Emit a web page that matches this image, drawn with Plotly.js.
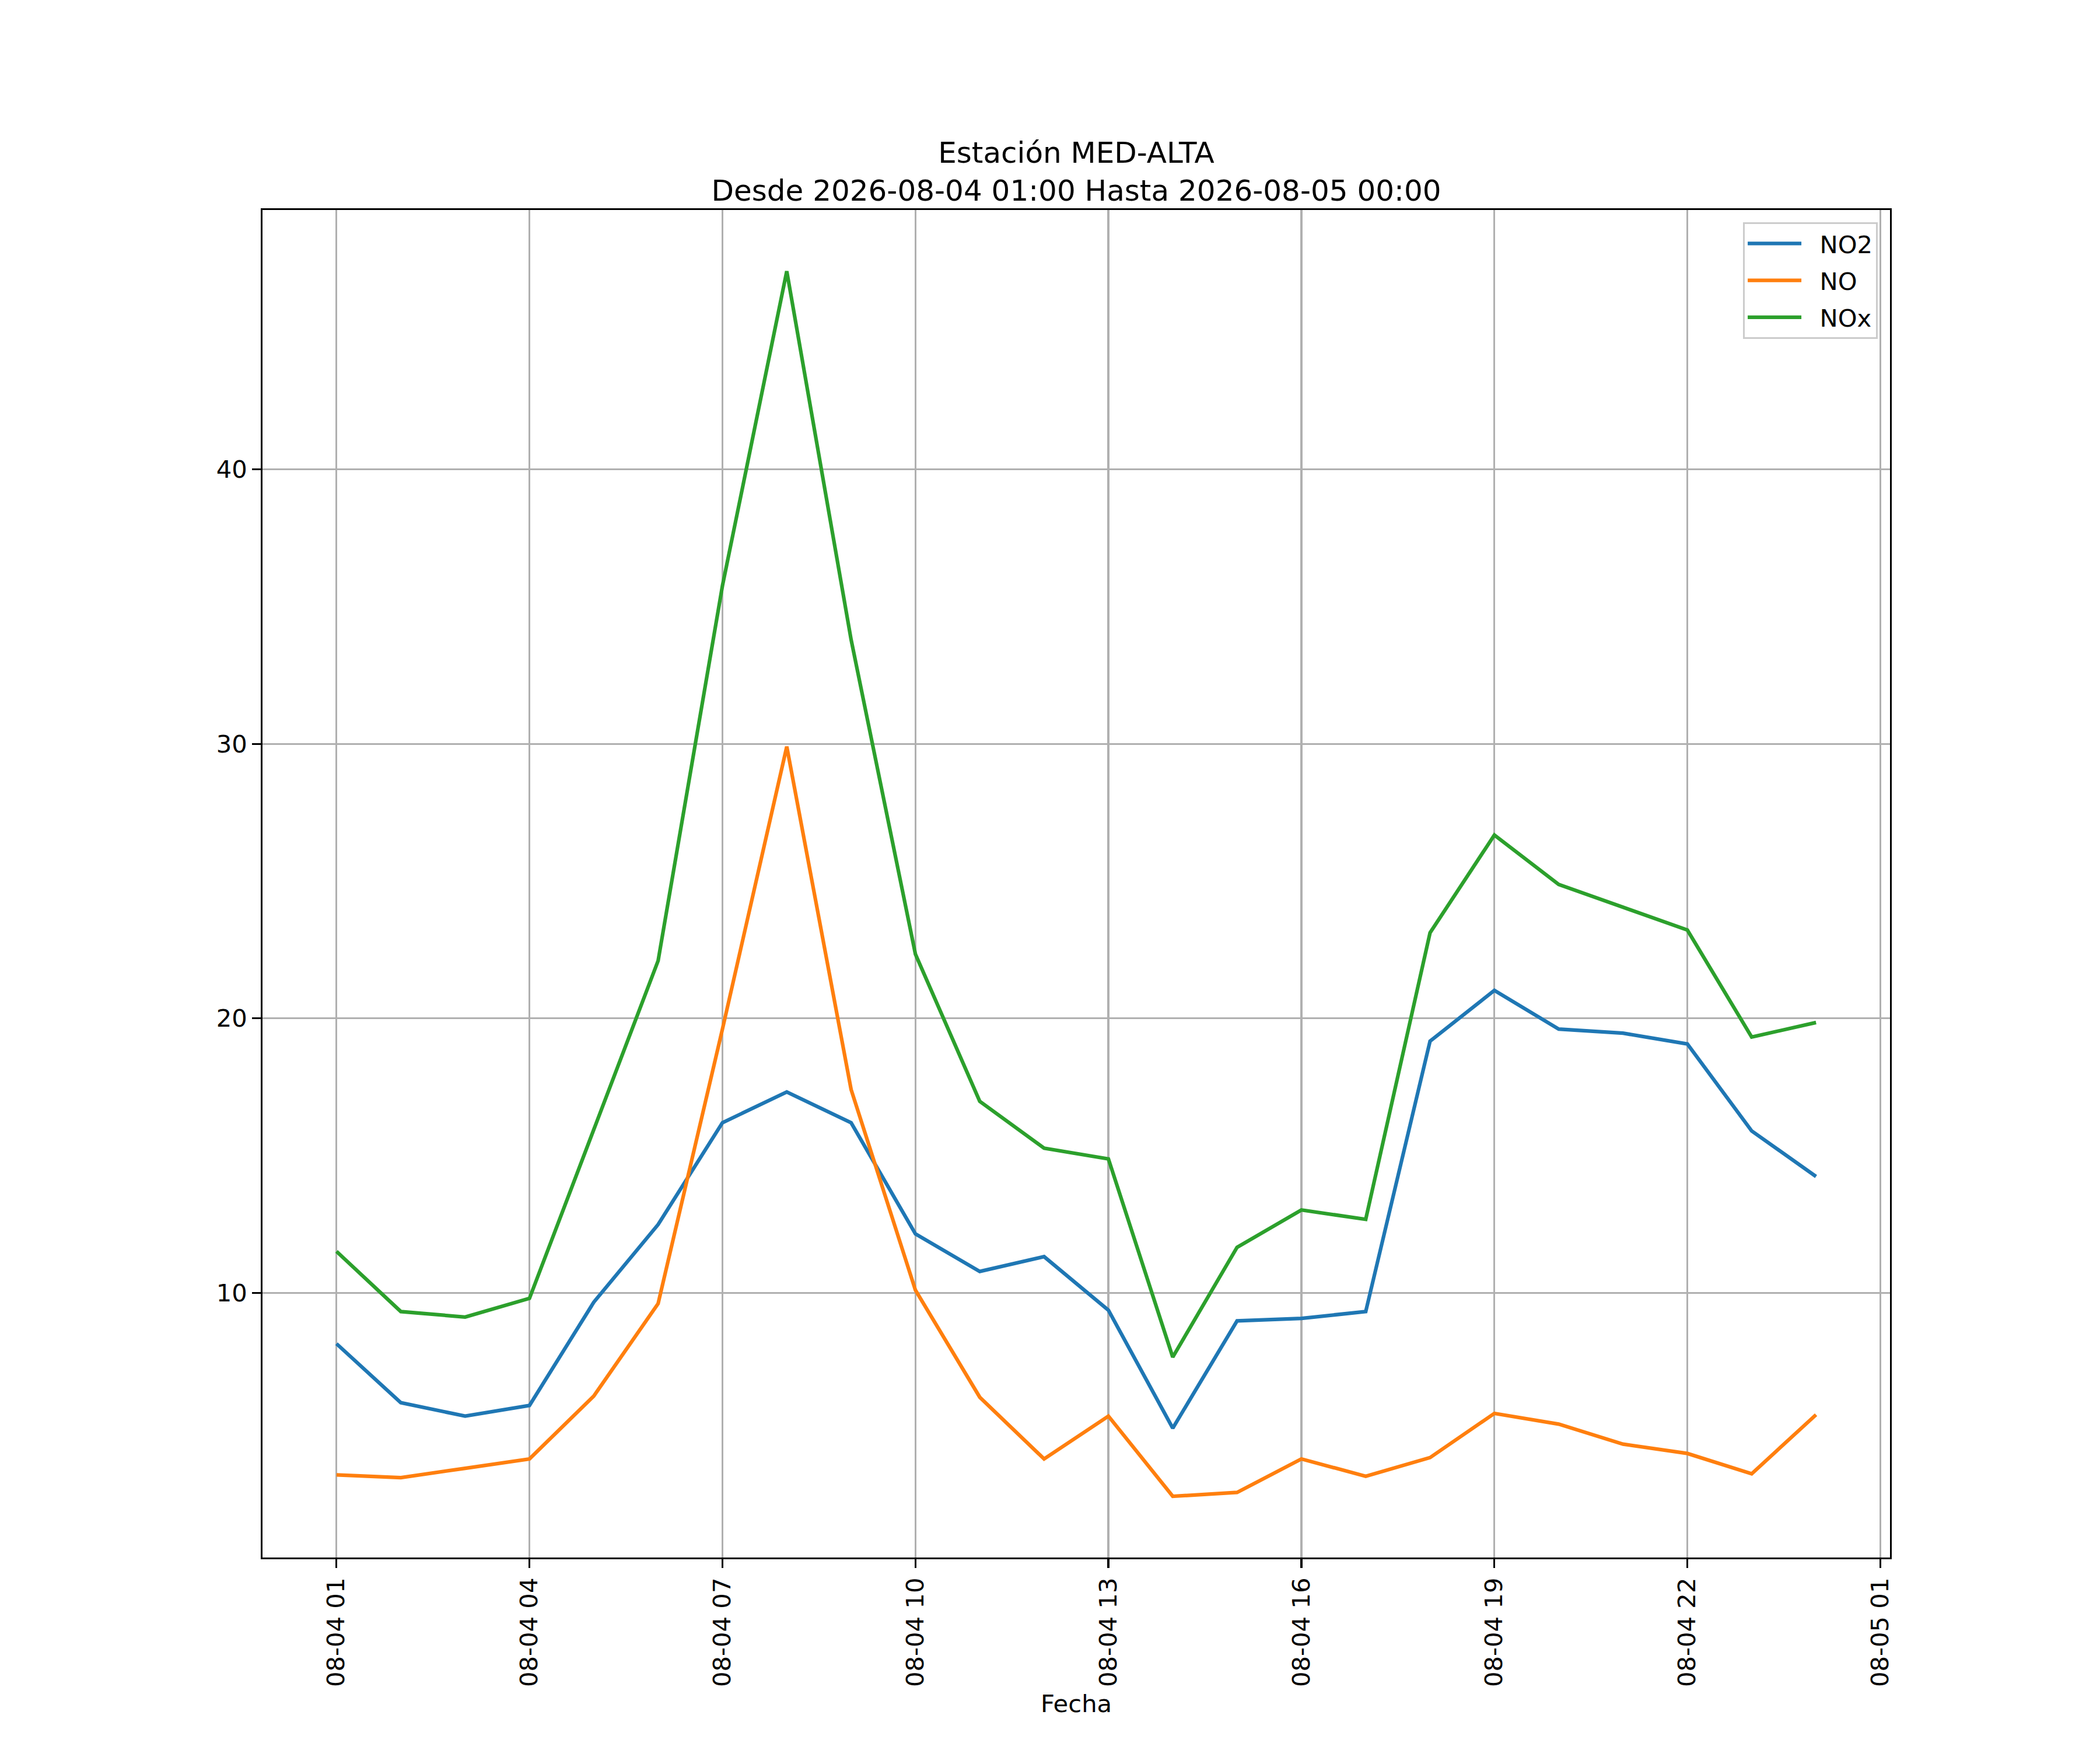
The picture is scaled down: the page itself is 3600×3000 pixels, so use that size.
<!DOCTYPE html>
<html>
<head>
<meta charset="utf-8">
<script src="https://cdn.plot.ly/plotly-3.0.1.min.js"></script>
<style>
  body { margin: 0; background: #ffffff; }
</style>
</head>
<body>
<div id="chart"></div>
<script>
// hourly timestamps, 2026-08-04 01:00 .. 2026-08-05 00:00
var fechas = ['2026-08-04 01:00', '2026-08-04 02:00', '2026-08-04 03:00', '2026-08-04 04:00',
    '2026-08-04 05:00', '2026-08-04 06:00', '2026-08-04 07:00', '2026-08-04 08:00',
    '2026-08-04 09:00', '2026-08-04 10:00', '2026-08-04 11:00', '2026-08-04 12:00',
    '2026-08-04 13:00', '2026-08-04 14:00', '2026-08-04 15:00', '2026-08-04 16:00',
    '2026-08-04 17:00', '2026-08-04 18:00', '2026-08-04 19:00', '2026-08-04 20:00',
    '2026-08-04 21:00', '2026-08-04 22:00', '2026-08-04 23:00', '2026-08-05 00:00'];

var no2 = [8.15, 6.0, 5.51, 5.9, 9.66, 12.49, 16.2, 17.32, 16.2, 12.15, 10.78, 11.32,
    9.37, 5.07, 8.98, 9.07, 9.32, 19.17, 21.02, 19.61, 19.46, 19.07, 15.9, 14.24];

var no = [3.37, 3.27, 3.61, 3.95, 6.24, 9.61, 19.61, 29.9, 17.41, 10.1, 6.2, 3.95,
    5.51, 2.59, 2.73, 3.95, 3.32, 4.0, 5.61, 5.22, 4.49, 4.15, 3.41, 5.56];

var nox = [11.51, 9.32, 9.12, 9.8, 15.95, 22.1, 35.76, 47.22, 33.8, 22.34, 16.98, 15.27,
    14.88, 7.66, 11.66, 13.02, 12.68, 23.12, 26.68, 24.88, 24.05, 23.22, 19.32, 19.85];

var series = ['NO2', 'NO', 'NOx'];

var xTickVals = ['2026-08-04 01:00', '2026-08-04 04:00', '2026-08-04 07:00', '2026-08-04 10:00',
    '2026-08-04 13:00', '2026-08-04 16:00', '2026-08-04 19:00', '2026-08-04 22:00',
    '2026-08-05 01:00'];
var xTickText = ['08-04 01', '08-04 04', '08-04 07', '08-04 10', '08-04 13',
    '08-04 16', '08-04 19', '08-04 22', '08-05 01'];
var yTickVals = [10, 20, 30, 40];

var FS = 41.7;     // 10pt at 300 dpi
var TITLE_FS = 50; // 12pt
var LW = 6.25;     // 1.5pt
var THIN = 3.3;    // 0.8pt
var GAP = '\u00a0\u00a0'; // space between legend line and label

var data = [
    {x: fechas, y: no2, name: GAP + series[0], type: 'scatter', mode: 'lines', legendgroup: 'a',
     line: {color: '#1f77b4', width: LW}},
    {x: fechas, y: no, name: GAP + series[1], type: 'scatter', mode: 'lines', legendgroup: 'b',
     line: {color: '#ff7f0e', width: LW}},
    {x: fechas, y: nox, name: GAP + series[2], type: 'scatter', mode: 'lines', legendgroup: 'c',
     line: {color: '#2ca02c', width: LW}}
];

var axisCommon = {
    showline: true,
    mirror: true,
    linecolor: '#000000',
    linewidth: THIN,
    ticks: 'outside',
    ticklen: 14.6,
    tickwidth: THIN,
    tickcolor: '#000000',
    showgrid: true,
    gridcolor: '#b0b0b0',
    gridwidth: THIN,
    zeroline: false,
    tickfont: {family: 'DejaVu Sans', size: FS, color: '#000000'}
};

var layout = {
    width: 3600,
    height: 3000,
    autosize: false,
    paper_bgcolor: '#ffffff',
    plot_bgcolor: '#ffffff',
    margin: {l: 450, r: 360, t: 360, b: 330, pad: 0},
    font: {family: 'DejaVu Sans', size: FS, color: '#000000'},
    title: {
        text: 'Estación MED-ALTA<br>Desde 2026-08-04 01:00 Hasta 2026-08-05 00:00',
        font: {family: 'DejaVu Sans', size: TITLE_FS, color: '#000000'},
        xref: 'paper', x: 0.5, xanchor: 'center',
        yref: 'container', y: 0.907, yanchor: 'top'
    },
    xaxis: Object.assign({}, axisCommon, {
        type: 'date',
        range: ['2026-08-03 23:51', '2026-08-05 01:09'],
        tickmode: 'array',
        tickvals: xTickVals,
        ticktext: xTickText,
        tickangle: -90,
        title: {text: 'Fecha', font: {family: 'DejaVu Sans', size: FS, color: '#000000'}, standoff: 15}
    }),
    yaxis: Object.assign({}, axisCommon, {
        range: [0.36, 49.45],
        tickmode: 'array',
        tickvals: yTickVals,
        ticktext: yTickVals.map(String)
    }),
    showlegend: true,
    legend: {
        x: 0.9925, y: 0.991,
        xanchor: 'right', yanchor: 'top',
        bgcolor: 'rgba(255,255,255,0.8)',
        bordercolor: '#cccccc',
        borderwidth: 3,
        itemwidth: 92,
        traceorder: 'grouped',
        tracegroupgap: 6,
        font: {family: 'DejaVu Sans', size: FS, color: '#000000'}
    }
};

Plotly.newPlot(document.getElementById('chart'), data, layout, {staticPlot: true});
</script>
</body>
</html>
